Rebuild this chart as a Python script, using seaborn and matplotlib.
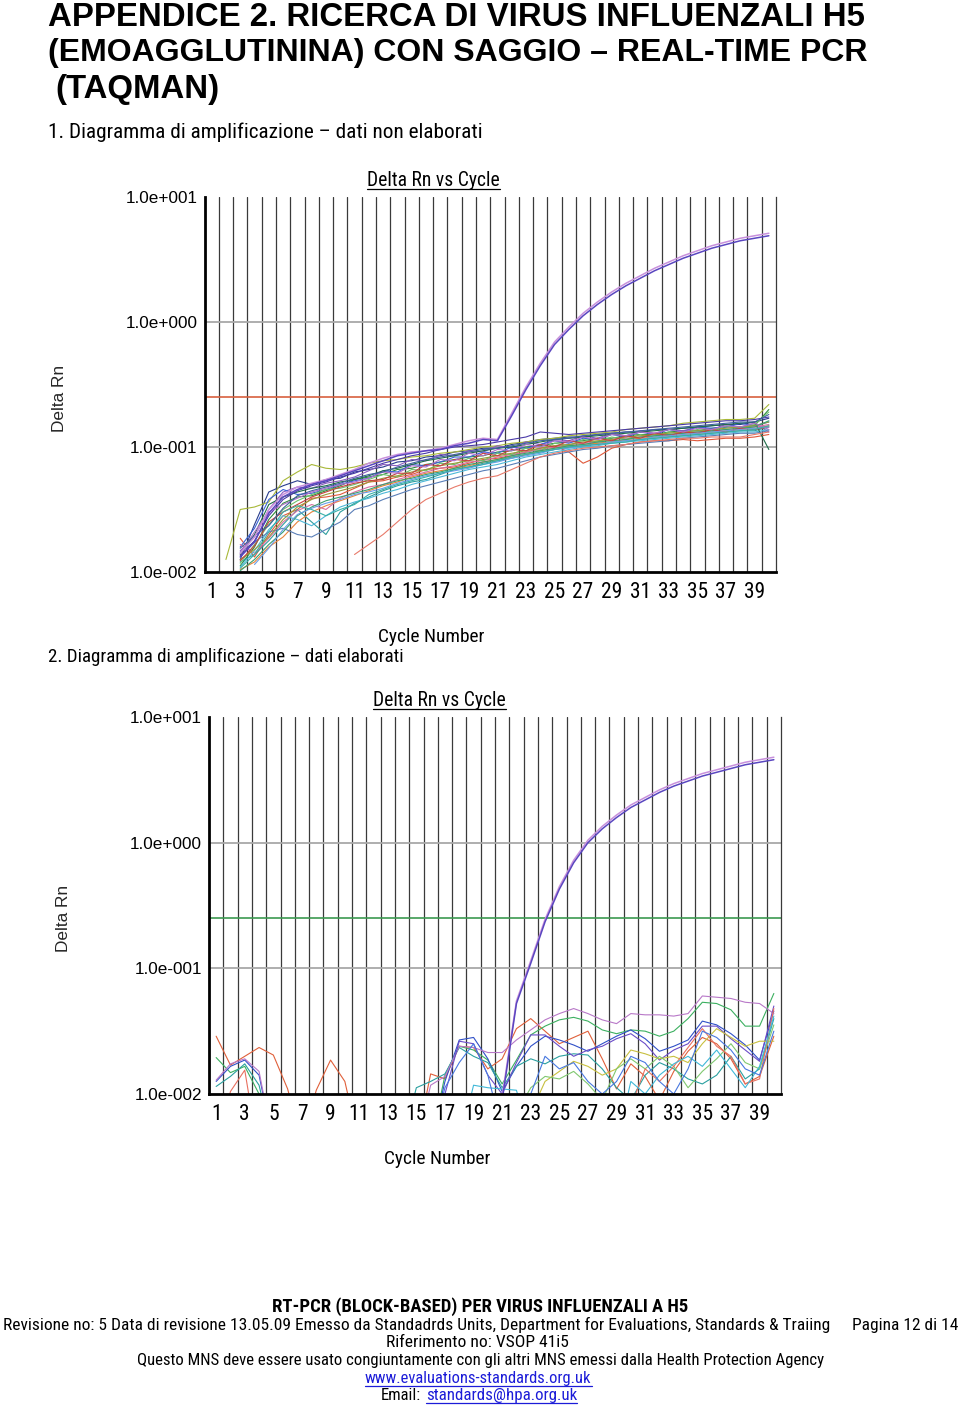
import numpy as np
import pandas as pd
import matplotlib
matplotlib.use("Agg")
import matplotlib.pyplot as plt
import seaborn as sns
from matplotlib.lines import Line2D
from matplotlib.ticker import NullLocator
from matplotlib import font_manager as fm

sns.set_theme(style="white")
REGULAR = ['Liberation Sans', 'DejaVu Sans']
plt.rcParams['font.family'] = REGULAR

# ---------------- data (Delta Rn, stored as 100*log10 value) ----------------
cycles = list(range(1, 41))
tick_cycles = list(range(1, 40, 2))
x_tick_labels = [str(c) for c in tick_cycles]
y_ticks = [0.01, 0.1, 1.0, 10.0]
y_tick_labels = ["1.0e-002", "1.0e-001", "1.0e+000", "1.0e+001"]
threshold_raw = 0.25
threshold_norm = 0.25

# plot 1: raw data (non elaborati)
raw_a01 = [None, None, -190,-162,-136,-131,-127,-130,-126,-125,-120,-118,-116,-112,-111,-108,-107,-104,-103,-101,-101,-98,-96,-94,-93,-92,-92,-90,-89,-88,-88,-86,-86,-85,-84,-83,-82,-82,-80,-77]
raw_a02 = [None, None, -195,-180,-158,-145,-140,-139,-135,-131,-126,-124,-122,-118,-117,-114,-112,-110,-108,-107,-104,-103,-100,-99,-97,-96,-95,-93,-93,-91,-90,-90,-88,-87,-87,-85,-84,-84,-83,-70]
raw_a03 = [None, None, -173,-188,-170,-155,-150,-141,-140,-138,-133,-128,-127,-124,-122,-118,-117,-116,-113,-110,-109,-107,-104,-101,-99,-104,-113,-108,-101,-98,-96,-95,-95,-94,-95,-94,-93,-93,-92,-90]
raw_a04 = [None, -190,-150,-148,-144,-127,-120,-114,-117,-118,-116,-113,-111,-110,-108,-107,-105,-104,-102,-100,-99,-97,-96,-94,-93,-91,-90,-89,-88,-86,-85,-84,-83,-81,-80,-79,-78,-78,-77,-66]
raw_a05 = [None, None, -183,-172,-150,-136,-132,-133,-129,-127,-124,-119,-114,-115,-110,-111,-106,-107,-103,-104,-99,-101,-96,-98,-94,-95,-91,-93,-89,-91,-87,-89,-86,-87,-84,-86,-82,-84,-81,-88]
raw_a06 = [None, None, -192,-186,-175,-162,-150,-160,-170,-152,-145,-140,-135,-131,-128,-126,-122,-118,-116,-113,-111,-109,-106,-104,-102,-100,-99,-97,-96,-95,-94,-93,-92,-91,-90,-89,-88,-87,-87,-84]
raw_a07 = [None, None, -180,-165,-142,-134,-138,-137,-134,-130,-127,-125,-119,-120,-114,-115,-112,-108,-108,-104,-105,-100,-101,-98,-95,-97,-93,-94,-90,-92,-88,-90,-86,-88,-84,-85,-84,-81,-83,-80]
raw_a08 = [None, None, -198,-192,-180,-172,-160,-152,-147,-143,-139,-135,-131,-128,-124,-121,-119,-117,-115,-112,-110,-108,-106,-103,-101,-99,-98,-97,-96,-94,-93,-92,-91,-90,-89,-88,-87,-86,-85,-83]
raw_a09 = [None, None, -178,-185,-173,-160,-151,-146,-150,-141,-136,-132,-130,-126,-123,-120,-117,-115,-112,-111,-108,-106,-104,-102,-100,-98,-97,-96,-94,-93,-92,-91,-90,-89,-88,-87,-86,-85,-84,-82]
raw_a10 = [None, None, -196,-183,-166,-155,-158,-163,-155,-148,-144,-141,-137,-134,-130,-127,-124,-121,-118,-116,-114,-111,-108,-106,-104,-102,-100,-99,-97,-96,-95,-94,-93,-92,-91,-90,-89,-88,-88,-86]
raw_a11 = [None, None, -186,-170,-146,-140,-136,-133,-131,-128,-126,-123,-119,-117,-114,-111,-109,-107,-105,-103,-101,-100,-98,-96,-94,-93,-92,-91,-90,-89,-88,-87,-86,-85,-84,-83,-82,-81,-80,-102]
raw_a12 = [None, None, -193,-178,-162,-150,-143,-138,-134,-133,-130,-126,-122,-124,-118,-119,-113,-114,-109,-111,-105,-106,-101,-103,-97,-99,-94,-96,-92,-94,-90,-92,-88,-89,-86,-88,-83,-85,-82,-72]
raw_a13 = [None, None, -184,-176,-168,-165,-170,-172,-166,-160,-150,-147,-142,-138,-134,-131,-128,-125,-122,-119,-117,-114,-111,-108,-106,-104,-102,-101,-99,-98,-97,-96,-95,-93,-92,-91,-90,-89,-89,-87]
raw_a14 = [None, None, None, None, None, None, None, None, None, None, -186,-178,-170,-160,-150,-142,-137,-132,-128,-125,-123,-118,-113,-108,-105,-103,-101,-100,-99,-98,-96,-95,-94,-93,-93,-92,-92,-92,-90,-88]
raw_a15 = [None, None, -190,-182,-172,-158,-148,-142,-138,-135,-132,-128,-125,-123,-120,-118,-115,-113,-111,-109,-107,-105,-103,-101,-99,-98,-96,-95,-94,-92,-91,-90,-89,-88,-87,-86,-85,-84,-83,-80]
raw_a16 = [None, None, -187,-175,-155,-142,-135,-131,-128,-124,-121,-117,-113,-110,-107,-105,-102,-100,-99,-98,-96,-94,-92,-88,-89,-90,-89,-88,-87,-86,-85,-84,-83,-82,-81,-80,-79,-79,-78,-76]
raw_a17 = [None, None, -199,-190,-178,-168,-155,-148,-143,-140,-137,-134,-130,-127,-125,-122,-120,-117,-114,-112,-110,-107,-105,-103,-101,-99,-98,-96,-95,-94,-92,-91,-90,-89,-88,-87,-86,-85,-84,-79]
raw_a18 = [None, None, -191,-179,-160,-152,-146,-140,-136,-132,-129,-127,-126,-121,-121,-114,-115,-110,-111,-105,-107,-102,-103,-98,-100,-95,-97,-93,-95,-91,-93,-89,-91,-88,-89,-86,-88,-85,-86,-84]
raw_a19 = [None, None, None, -194,-181,-166,-154,-149,-145,-142,-138,-136,-133,-129,-126,-123,-121,-119,-117,-114,-112,-109,-107,-105,-102,-101,-99,-98,-96,-95,-94,-92,-91,-90,-89,-88,-87,-86,-85,-84]
raw_a20 = [None, None, -185,-168,-152,-146,-141,-136,-133,-130,-128,-125,-120,-121,-115,-116,-110,-111,-105,-107,-102,-103,-98,-100,-95,-96,-92,-94,-90,-91,-88,-89,-86,-88,-85,-86,-83,-84,-81,-86]
raw_a21 = [None, None, -197,-186,-168,-152,-147,-150,-155,-150,-146,-138,-134,-130,-127,-124,-121,-118,-116,-114,-111,-108,-106,-104,-102,-100,-99,-98,-97,-96,-94,-93,-92,-91,-90,-89,-88,-87,-86,-83]
raw_a22 = [None, None, -181,-171,-163,-149,-139,-135,-132,-129,-125,-122,-120,-116,-113,-110,-108,-106,-104,-102,-101,-99,-97,-95,-94,-93,-91,-90,-89,-88,-87,-86,-85,-84,-83,-82,-81,-80,-80,-74]
raw_amp_a = [None, None, -185,-172,-150,-138,-132,-129,-126,-122,-118,-113,-109,-106,-104,-103,-101,-98,-95,-93,-94,-73,-52,-33,-16,-4,7,16,24,31,37,43,48,53,57,61,64,67,69,71]
raw_amp_b = [None, None, -188,-176,-153,-140,-134,-130,-127,-123,-119,-115,-111,-107,-105,-103,-102,-99,-97,-94,-95,-75,-54,-35,-18,-6,5,14,22,29,35,41,46,51,55,59,62,65,67,69]

# plot 2: baseline-corrected data (elaborati); values below -200 fall under the axis
norm_b01 = [-154,-177,-170,-163,-169,-196,-240,-197,-173,-190, -240,-240,-240,-240,-240,-184,-188,-162,-163,-180, -172,-148,-140,-150,-160,-155,-150,-172,-196,-176, -186,-205,-182,-166,-155,-160,-172,-192,-186,-154]
norm_b02 = [-171,-183,-178,-200,-240,-240,-240,-240,-240,-240, -240,-240,-240,-240,-240,-240,-185,-162,-165,-173, -192,-173,-153,-146,-141,-139,-142,-149,-152,-149, -150,-154,-150,-140,-127,-128,-133,-146,-146,-120]
norm_b03 = [-190,-178,-173,-185,-240,-240,-240,-240,-240,-240, -240,-240,-240,-240,-240,-240,-190,-157,-155,-172, -198,-178,-162,-154,-157,-161,-166,-160,-154,-149, -156,-166,-162,-157,-142,-145,-152,-161,-173,-134]
norm_b04 = [-194,-186,-176,-193,-240,-240,-240,-240,-240,-240, -240,-240,-240,-240,-195,-190,-184,-163,-170,-175, -195,-178,-172,-176,-170,-168,-169,-180,-195,-205, -185,-175,-180,-188,-192,-185,-170,-188,-180,-140]
norm_b05 = [-189,-176,-172,-182,-240,-240,-240,-240,-240,-240, -240,-240,-240,-240,-240,-193,-186,-162,-163,-167, -167,-157,-149,-141,-136,-132,-136,-141,-144,-136, -137,-137,-138,-136,-122,-123,-124,-127,-128,-136]
norm_b06 = [-240,-240,-240,-240,-240,-240,-240,-240,-240,-240, -240,-240,-240,-240,-240,-240,-200,-158,-160,-185, -200,-175,-153,-153,-162,-170,-165,-162,-156,-152, -160,-173,-165,-160,-146,-146,-156,-165,-174,-130]
norm_b07 = [-240,-240,-240,-240,-240,-240,-240,-240,-240,-240, -240,-240,-240,-240,-240,-240,-240,-240,-240,-240, -240,-240,-215,-190,-182,-174,-178,-185,-180,-165, -168,-172,-170,-175,-160,-148,-155,-162,-158,-158]
norm_b08 = [-240,-240,-240,-240,-240,-240,-240,-240,-240,-240, -240,-240,-240,-240,-240,-240,-240,-240,-240,-240, -240,-215,-195,-186,-188,-182,-192,-205,-180,-172, -180,-170,-178,-195,-182,-172,-160,-175,-180,-145]
norm_b09 = [-250,-198,-181,-250,-240,-240,-240,-240,-240,-240, -240,-240,-240,-240,-240,-240,-240,-240,-240,-240, -240,-240,-240,-240,-240,-240,-240,-240,-240,-210, -180,-190,-178,-163,-148,-162,-170,-192,-188,-132]
norm_b10 = [-240,-240,-240,-240,-240,-240,-240,-240,-240,-240, -240,-240,-240,-240,-240,-240,-240,-240,-193,-195, -196,-197,-240,-240,-240,-240,-240,-240,-240,-190, -200,-185,-176,-170,-178,-165,-180,-195,-178,-138]
norm_b11 = [-240,-240,-240,-240,-240,-240,-240,-240,-240,-240, -240,-240,-240,-240,-240,-240,-195,-175,-160,-185, -230,-240,-200,-170,-180,-175,-190,-200,-190,-170, -175,-190,-200,-180,-150,-155,-165,-180,-185,-150]
norm_amp_a = [None]*20 + [-202,-126,-94,-61,-35,-14,2,13,22,30,36,42,47,51,55,58,61,64,66,68]
norm_amp_b = [None]*20 + [-205,-128,-96,-63,-37,-16,0,11,20,28,34,40,45,49,53,56,59,62,64,66]

raw_wells = [raw_a01, raw_a02, raw_a03, raw_a04, raw_a05, raw_a06, raw_a07, raw_a08, raw_a09, raw_a10, raw_a11,
             raw_a12, raw_a13, raw_a14, raw_a15, raw_a16, raw_a17, raw_a18, raw_a19, raw_a20, raw_a21, raw_a22]
norm_wells = [norm_b01, norm_b02, norm_b03, norm_b04, norm_b05, norm_b06, norm_b07, norm_b08, norm_b09, norm_b10, norm_b11]

# ---------------- styles ----------------
raw_colors = ['#283c8c', '#2e8b3e', '#e0583a', '#a8b838', '#8a5cc0', '#2f9e9e', '#3a62d8', '#e8843c', '#d66fa0',
              '#4cb8d8', '#1f6e4a', '#6cc06c', '#5a7fb8', '#e87a6a', '#9a9a3a', '#4b3aa8', '#3aa070', '#c84040',
              '#6a9ee8', '#b070c8', '#38b0a8', '#4060a0']
norm_colors = ['#e0603a', '#3cb060', '#3050c8', '#2aa0a0', '#b878c8', '#6a4cc8', '#c8c040', '#80c870', '#e87060',
               '#40b8d8', '#4878e0']
amp_colors = ['#c890dc', '#5a46c0']


def condensed_font(bold):
    """Look for an installed narrow / condensed sans face; fall back to Liberation Sans."""
    prefs = ['Liberation Sans Narrow', 'Arial Narrow', 'Roboto Condensed', 'Noto Sans', 'Open Sans',
             'Liberation Sans', 'DejaVu Sans', 'Lato', 'Inter', 'Roboto']
    found = []
    for f in fm.fontManager.ttflist:
        low = f.fname.lower()
        narrow = ('narrow' in low or 'condensed' in low or 'narrow' in f.name.lower()
                  or 'condensed' in f.name.lower() or str(f.stretch) in ('condensed', 'semi-condensed'))
        if not narrow or f.style != 'normal':
            continue
        if any(k in low for k in ('extra', 'ultra', 'semi', 'mono', 'italic', 'oblique', 'light', 'thin', 'medium', 'black')):
            continue
        try:
            w = int(f.weight)
        except (TypeError, ValueError):
            w = {'bold': 700, 'normal': 400, 'regular': 400}.get(str(f.weight), 400)
        if bold and w < 600:
            continue
        if not bold and w >= 600:
            continue
        rank = len(prefs)
        for i, p in enumerate(prefs):
            if f.name.startswith(p):
                rank = i
                break
        found.append((rank, f.fname))
    if found:
        found.sort()
        return fm.FontProperties(fname=found[0][1])
    return fm.FontProperties(family=REGULAR, weight='bold' if bold else 'normal')


FP_N = condensed_font(False)
FP_B = condensed_font(True)
FP_R = fm.FontProperties(family=REGULAR)
FP_RB = fm.FontProperties(family=REGULAR, weight='bold')

W, H = 960, 1409
fig = plt.figure(figsize=(W / 100, H / 100), dpi=100)
fig.patch.set_facecolor('white')


def frame(traces, prefix):
    parts = []
    for i, tr in enumerate(traces):
        v = np.array(tr, dtype=float)
        d = pd.DataFrame({'cycle': cycles, 'delta_rn': 10 ** (v / 100.0), 'well': f'{prefix}{i:02d}'})
        parts.append(d.dropna())
    return pd.concat(parts, ignore_index=True)


def draw_panel(rect, wells, colors, amps, thr, thr_color):
    ax = fig.add_axes(rect)
    df = frame(wells, 'w')
    sns.lineplot(data=df, x='cycle', y='delta_rn', hue='well', palette=colors, estimator=None,
                 legend=False, linewidth=0.8, ax=ax, sort=False)
    da = frame(amps, 'amp')
    sns.lineplot(data=da, x='cycle', y='delta_rn', hue='well', palette=amp_colors, estimator=None,
                 legend=False, linewidth=1.1, ax=ax, sort=False)
    ax.set_yscale('log')
    ax.set_ylim(y_ticks[0], y_ticks[-1])
    ax.set_xlim(0.5, 40.5)
    ax.set_xticks(tick_cycles)
    ax.set_xticklabels(x_tick_labels)
    for lab in ax.get_xticklabels():
        lab.set_fontproperties(FP_N)
        lab.set_fontsize(15.5)
    ax.set_xticks(np.arange(1.5, 40.5, 1.0), minor=True)
    ax.set_yticks(y_ticks)
    ax.set_yticklabels(y_tick_labels)
    for lab in ax.get_yticklabels():
        lab.set_fontproperties(FP_R)
        lab.set_fontsize(12.3)
    ax.yaxis.set_minor_locator(NullLocator())
    ax.tick_params(which='both', length=0)
    ax.tick_params(axis='y', pad=5, colors='black')
    ax.tick_params(axis='x', pad=7, colors='black')
    ax.grid(False)
    ax.grid(which='minor', axis='x', color='#3a3a3a', lw=0.9)
    for yv in y_ticks[1:-1]:
        ax.axhline(yv, color='#a8a8a8', lw=1.3, zorder=0.8)
    ax.axhline(thr, color=thr_color, lw=1.2, zorder=1.5)
    ax.set_axisbelow(True)
    ax.spines['top'].set_visible(False)
    ax.spines['right'].set_color('#3a3a3a')
    ax.spines['right'].set_linewidth(0.9)
    for s in ('left', 'bottom'):
        ax.spines[s].set_color('black')
        ax.spines[s].set_linewidth(2.0)
    ax.set_xlabel('')
    ax.set_ylabel('')
    ax.set_facecolor('white')
    return ax


ax1 = draw_panel([204.5 / W, 1 - 572 / H, 571.5 / W, 375 / H], raw_wells, raw_colors,
                 [raw_amp_a, raw_amp_b], threshold_raw, '#d8603e')
ax2 = draw_panel([209 / W, 1 - 1094 / H, 572 / W, 377 / H], norm_wells, norm_colors,
                 [norm_amp_a, norm_amp_b], threshold_norm, '#3c9a50')

R = fig.canvas.get_renderer()


def put(s, x0, x1, base, size, fp, color='black', underline=False):
    t = fig.text(x0 / W, 1 - base / H, s, fontproperties=fp, color=color, ha='left', va='baseline')
    t.set_fontsize(size)
    w = t.get_window_extent(R).width
    t.set_fontsize(size * (x1 - x0) / w)
    bb = t.get_window_extent(R)
    over = bb.y1 - (H - 1.5)
    if over > 0:
        base = base + over
        t.set_y(1 - base / H)
        bb = t.get_window_extent(R)
    if underline:
        yl = 1 - (base + 2.5) / H
        fig.add_artist(Line2D([bb.x0 / W, bb.x1 / W], [yl, yl], transform=fig.transFigure,
                              color=color, lw=0.9))
    return t


def put_vertical(s, xc, yc, length, size, fp):
    t = fig.text(xc / W, 1 - yc / H, s, fontproperties=fp, rotation=90, ha='center', va='center')
    t.set_fontsize(size)
    h = t.get_window_extent(R).height
    t.set_fontsize(size * length / h)
    return t


# heading
put("APPENDICE 2. RICERCA DI VIRUS INFLUENZALI H5", 48, 860, 24, 22, FP_RB)
put("(EMOAGGLUTININA) CON SAGGIO \u2013 REAL-TIME PCR", 48, 866, 61, 22, FP_RB)
put("(TAQMAN)", 55, 218, 98, 22, FP_RB)
put("1. Diagramma di amplificazione \u2013 dati non elaborati", 48, 480, 138, 13, FP_N)
put("2. Diagramma di amplificazione \u2013 dati elaborati", 48, 403, 662, 13, FP_N)

# panel labels
put("Delta Rn vs Cycle", 367, 499, 186, 12, FP_N, underline=True)
put("Delta Rn vs Cycle", 373, 505, 706, 12, FP_N, underline=True)
put("Cycle Number", 378, 484, 642, 12, FP_N)
put("Cycle Number", 384, 490, 1164, 12, FP_N)
put_vertical("Delta Rn", 60, 398, 67, 12, FP_R)
put_vertical("Delta Rn", 64, 918, 67, 12, FP_R)

# footer
put("RT-PCR (BLOCK-BASED) PER VIRUS INFLUENZALI A H5", 272, 686, 1312, 11, FP_B)
put("Revisione no: 5 Data di revisione 13.05.09 Emesso da Standadrds Units, Department for Evaluations, "
    "Standards & Traiing", 3, 823, 1330, 11, FP_N)
put("Pagina 12 di 14", 852, 958, 1330, 11, FP_N)
put("Riferimento no: VSOP 41i5", 386, 568, 1347, 11, FP_N)
put("Questo MNS deve essere usato congiuntamente con gli altri MNS emessi dalla Health Protection Agency",
    137, 822, 1365, 11, FP_N)
put("www.evaluations-standards.org.uk", 365, 592, 1383, 11, FP_N, color='#1c1cd8', underline=True)
put("Email:", 381, 421, 1400, 11, FP_N)
put("standards@hpa.org.uk", 426, 577, 1400, 11, FP_N, color='#1c1cd8', underline=True)

fig.savefig('out.png', dpi=100, facecolor='white')
